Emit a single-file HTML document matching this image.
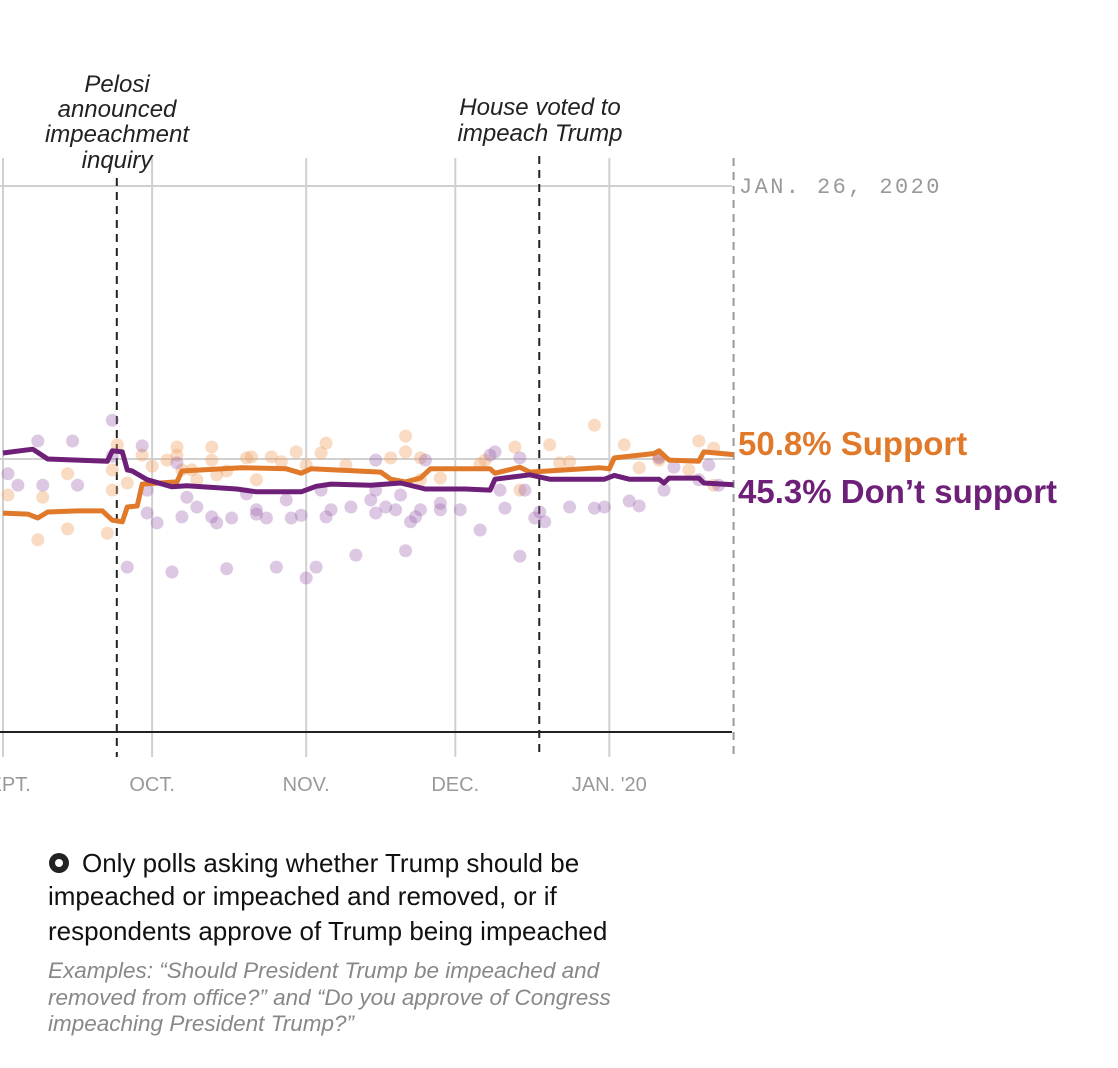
<!DOCTYPE html>
<html><head><meta charset="utf-8"><style>
html,body{margin:0;padding:0;background:#fff;width:1118px;height:1068px;overflow:hidden}
svg text{font-family:"Liberation Sans Narrow","Liberation Sans",sans-serif}
.ann{font-style:italic;font-size:24px;fill:#222;text-anchor:middle}
.tick{font-size:20px;fill:#999;text-anchor:middle}
</style></head><body>
<svg id="chart" width="1118" height="1068" viewBox="0 0 1118 1068">
<g id="grid"></g>
<g id="dots"></g>
<g id="lines"></g>
<g id="labels"></g>
<text class="ann" x="117" y="92"><tspan x="117">Pelosi</tspan><tspan x="117" dy="25">announced</tspan><tspan x="117" dy="25">impeachment</tspan><tspan x="117" dy="26">inquiry</tspan></text>
<text class="ann" x="540" y="115"><tspan x="540">House voted to</tspan><tspan x="540" dy="26">impeach Trump</tspan></text>
<text x="739" y="193" style="font-family:'Liberation Mono',monospace;font-size:22px;fill:#999;letter-spacing:2.4px">JAN. 26, 2020</text>
<text x="738" y="455" style="font-family:'Liberation Sans',sans-serif;font-weight:bold;font-size:33px;fill:#e07a2a">50.8% Support</text>
<text x="738" y="503" style="font-family:'Liberation Sans',sans-serif;font-weight:bold;font-size:33px;fill:#6e1f78">45.3% Don’t support</text>
<g>
<circle cx="59" cy="863" r="10" fill="#222"/>
<circle cx="59" cy="863" r="4" fill="#fff"/>
<text style="font-size:26px;fill:#111"><tspan x="82" y="872">Only polls asking whether Trump should be</tspan><tspan x="48" y="905">impeached or impeached and removed, or if</tspan><tspan x="48" y="940">respondents approve of Trump being impeached</tspan></text>
<text style="font-size:22.5px;font-style:italic;fill:#888"><tspan x="48" y="978">Examples: “Should President Trump be impeached and</tspan><tspan x="48" y="1005">removed from office?” and “Do you approve of Congress</tspan><tspan x="48" y="1031">impeaching President Trump?”</tspan></text>
</g>
</svg>
<script>
const supportDays=[0,5,7,9,15,20,22,24,25,27,28,35,36,48,57,60,62,76,78,81,84,86,98,99,104,106,120,122,123,131,132,134,140,141,147];
const supportVals=[40.1,39.9,39.2,40.3,40.5,40.5,38.8,38.5,41.2,41.4,45.4,45.8,47.8,48.4,48.2,47.4,48.2,47.6,46.3,45.8,46.5,48.2,48.2,47.4,48.5,47.6,48.4,48.2,50.2,51.0,51.5,49.8,49.6,51.3,50.8];
const opposeDays=[0,6,9,21,22,24,25,26,29,34,37,47,51,60,63,66,74,80,85,93,98,99,106,110,121,123,126,132,133,134,140,141,147];
const opposeVals=[51.1,51.8,50.0,49.6,51.5,51.3,48.0,47.8,46.2,44.9,45.1,44.5,44.0,44.0,45.0,45.4,45.2,45.6,44.5,44.5,44.3,46.3,47.1,46.3,46.3,47.0,46.3,46.3,45.6,46.5,46.5,45.6,45.3];
const supportPollDays=[1,7,8,13,13,21,22,22,23,25,28,30,33,35,35,36,38,39,42,42,43,45,49,50,51,54,56,59,61,64,65,69,78,81,81,84,84,88,96,97,103,104,110,112,114,119,125,128,132,132,138,140,143,143];
const supportPollVals=[43.4,35.2,43.0,47.3,37.2,36.4,44.3,48.0,52.6,45.6,50.7,48.7,49.8,52.2,50.7,48.0,48.0,46.2,52.2,49.8,47.1,47.8,50.2,50.4,46.2,50.4,49.5,51.3,48.9,51.1,52.9,48.9,50.2,54.2,51.3,50.2,46.2,46.5,49.1,49.8,52.2,44.3,52.6,49.3,49.5,56.2,52.6,48.4,50.5,49.8,48.0,53.3,52.0,45.2];
const opposePollDays=[1,3,7,8,14,15,22,22,25,28,29,29,31,34,35,36,37,39,42,43,45,46,49,51,51,53,55,57,58,60,61,63,64,65,66,70,71,74,75,75,75,77,79,80,81,82,83,84,85,88,88,92,96,98,99,100,101,104,104,105,107,108,109,114,119,121,126,128,132,133,135,140,142,144];
const opposePollVals=[47.3,45.2,53.3,45.2,53.3,45.2,57.1,50.5,30.2,52.4,44.3,40.1,38.3,29.3,49.3,39.4,43.0,41.2,39.4,38.3,29.9,39.2,43.6,40.7,39.9,39.2,30.2,42.5,39.2,39.7,28.2,30.2,44.3,39.4,40.7,41.2,32.4,42.5,49.8,40.1,44.3,41.2,40.7,43.4,33.2,38.5,39.4,40.7,49.8,40.7,41.9,40.7,37.0,50.7,51.3,44.3,41.0,32.2,50.2,44.3,39.2,40.3,38.5,41.2,41.0,41.2,42.3,41.4,50.2,44.3,48.5,46.2,48.9,45.2];
const monthDays=[0,30,61,91,122];
const monthLabels=["SEPT.","OCT.","NOV.","DEC.","JAN. '20"];
const yTicks=[0,50,100];
const eventDays=[23,108];

const NS="http://www.w3.org/2000/svg";
const xS=d=>3+d*4.97;
const yS=v=>732-v*5.46;
function mk(tag,attrs,parent){const e=document.createElementNS(NS,tag);for(const k in attrs)e.setAttribute(k,attrs[k]);parent.appendChild(e);return e;}
const grid=document.getElementById('grid'),dots=document.getElementById('dots'),lines=document.getElementById('lines'),labels=document.getElementById('labels');
yTicks.forEach(t=>{if(t===0)return;const l=mk('line',{x1:0,x2:732,y1:yS(t),y2:yS(t),stroke:'#d0d0d0','stroke-width':2},grid);

});
monthDays.forEach((d,i)=>{const l=mk('line',{x1:xS(d),x2:xS(d),y1:158,y2:757,stroke:'#d0d0d0','stroke-width':2},grid);


const t=mk('text',{x:xS(d),y:791,class:'tick'},labels);t.textContent=monthLabels[i];

});
const ax=mk('line',{x1:0,x2:732,y1:yS(0),y2:yS(0),stroke:'#222','stroke-width':2},grid);


eventDays.forEach((d,i)=>{const l=mk('line',{x1:xS(d)-0.5,x2:xS(d)-0.5,y1:i===0?178:156,y2:757,stroke:'#222','stroke-width':2,'stroke-dasharray':'8,6'},grid);

});
const endL=mk('line',{x1:xS(147),x2:xS(147),y1:158,y2:757,stroke:'#999','stroke-width':2,'stroke-dasharray':'8,6'},grid);


supportPollDays.forEach((d,i)=>{const c=mk('circle',{cx:xS(d),cy:yS(supportPollVals[i]),r:6.5,fill:'#f0a668','fill-opacity':0.4},dots);

});
opposePollDays.forEach((d,i)=>{const c=mk('circle',{cx:xS(d),cy:yS(opposePollVals[i]),r:6.5,fill:'#9a62ab','fill-opacity':0.35},dots);

});
function path(ds,vs,col,name){const p=mk('path',{d:ds.map((d,i)=>(i?'L':'M')+xS(d).toFixed(1)+','+yS(vs[i]).toFixed(1)).join(''),fill:'none',stroke:col,'stroke-width':5,'stroke-linejoin':'round'},lines);

}
path(supportDays,supportVals,'#e07a2a','support-line');
path(opposeDays,opposeVals,'#6e1f78','dont-support-line');
</script>
</body></html>
